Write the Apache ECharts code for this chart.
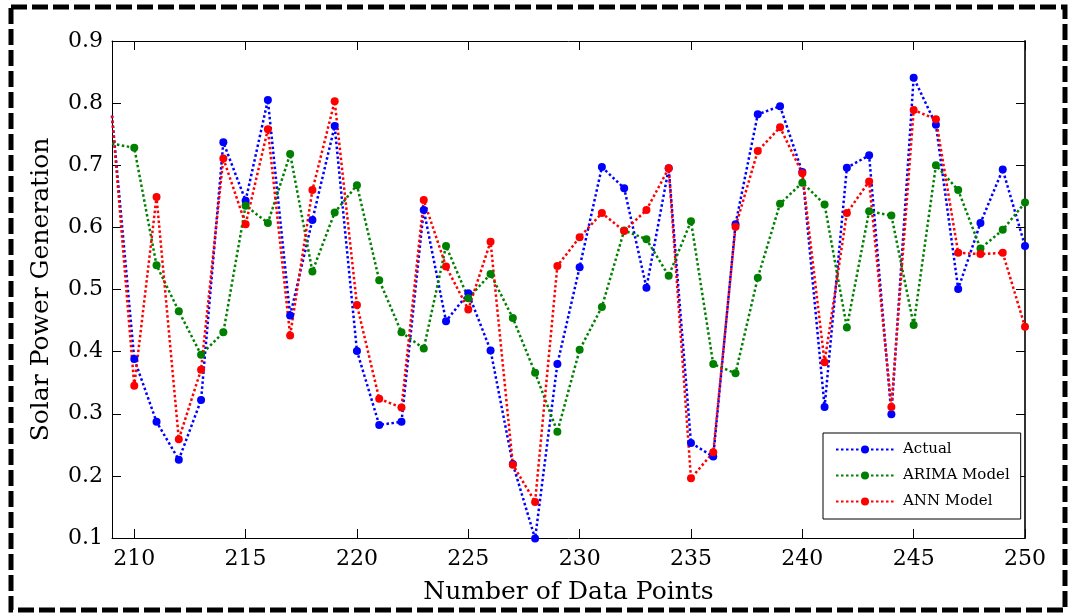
<!DOCTYPE html>
<html>
<head>
<meta charset="utf-8">
<title>Solar Power Generation</title>
<script src="https://cdn.jsdelivr.net/npm/echarts@6/dist/echarts.min.js"></script>
<style>
  html, body { margin: 0; padding: 0; background: #fff; }
  #chart { width: 1068px; height: 613px; }
</style>
</head>
<body>
<div id="chart"></div>
<script>
// data points 209..250
const xStart = 209
const xTicks = [210, 215, 220, 225, 230, 235, 240, 245, 250]
const yTicks = [0.1, 0.2, 0.3, 0.4, 0.5, 0.6, 0.7, 0.8, 0.9]

const actual = [0.78, 0.388, 0.287, 0.226, 0.322, 0.737, 0.643, 0.805, 0.458, 0.612,
  0.763, 0.401, 0.282, 0.287, 0.628, 0.449, 0.494, 0.402, 0.219, 0.099,
  0.380, 0.536, 0.697, 0.663, 0.503, 0.695, 0.253, 0.231, 0.605, 0.782,
  0.795, 0.689, 0.311, 0.696, 0.716, 0.299, 0.841, 0.765, 0.501, 0.607,
  0.693, 0.570]
const arima = [0.735, 0.728, 0.539, 0.465, 0.395, 0.431, 0.635, 0.607, 0.718, 0.529,
  0.624, 0.668, 0.515, 0.431, 0.405, 0.570, 0.486, 0.525, 0.454, 0.366,
  0.271, 0.403, 0.472, 0.595, 0.581, 0.522, 0.610, 0.380, 0.365, 0.519,
  0.638, 0.672, 0.637, 0.439, 0.626, 0.619, 0.443, 0.700, 0.660, 0.566,
  0.596, 0.640]
const ann = [0.78, 0.345, 0.649, 0.259, 0.371, 0.711, 0.605, 0.758, 0.426, 0.660,
  0.803, 0.475, 0.324, 0.310, 0.644, 0.537, 0.468, 0.577, 0.218, 0.158,
  0.538, 0.584, 0.623, 0.594, 0.628, 0.695, 0.196, 0.238, 0.601, 0.723,
  0.761, 0.687, 0.383, 0.623, 0.674, 0.311, 0.789, 0.774, 0.559, 0.557,
  0.559, 0.440]

const serif = 'DejaVu Serif'

function makeSeries(name, values, color) {
  let pts = []
  for (let i = 0; i < values.length; i++) {
    let item = { value: [xStart + i, values[i]] }
    // first point sits on the left edge, no marker there
    if (i === 0) {
      item.symbol = 'none'
    }
    pts.push(item)
  }
  return {
    name: name,
    type: 'line',
    data: pts,
    clip: false,
    symbol: 'circle',
    symbolSize: 8,
    itemStyle: { color: color },
    lineStyle: { color: color, width: 2.5, type: [2.5, 2.5] },
    animation: false
  }
}

function axisBase(pos, isX) {
  return {
    type: 'value',
    position: pos,
    min: isX ? 209 : 0.1,
    max: isX ? 250 : 0.9,
    axisLine: { show: true, onZero: false, lineStyle: { color: '#000', width: 1 } },
    axisTick: { show: true, inside: true, length: 9, customValues: isX ? xTicks : yTicks, lineStyle: { color: '#000' } },
    axisLabel: { show: false, customValues: isX ? xTicks : yTicks },
    splitLine: { show: false }
  }
}

const chart = echarts.init(document.getElementById('chart'))

let xBottom = axisBase('bottom', true)
xBottom.axisLabel = {
  show: true, customValues: xTicks, margin: 10,
  color: '#000', fontFamily: serif, fontSize: 22
}
xBottom.name = 'Number of Data Points'
xBottom.nameLocation = 'middle'
xBottom.nameGap = 42
xBottom.nameTextStyle = { color: '#000', fontFamily: serif, fontSize: 25 }

let yLeft = axisBase('left', false)
yLeft.axisLabel = {
  show: true, customValues: yTicks, margin: 9,
  color: '#000', fontFamily: serif, fontSize: 22,
  formatter: v => v.toFixed(1)
}
yLeft.name = 'Solar Power Generation'
yLeft.nameLocation = 'middle'
yLeft.nameGap = 58
yLeft.nameTextStyle = { color: '#000', fontFamily: serif, fontSize: 25 }

let xTop = axisBase('top', true)
let yRight = axisBase('right', false)
yRight.axisLine.lineStyle = { color: '#333', width: 2 }

chart.setOption({
  backgroundColor: '#fff',
  animation: false,
  grid: { left: 112, top: 41, right: 43, bottom: 75 },
  xAxis: [xBottom, xTop],
  yAxis: [yLeft, yRight],
  legend: {
    orient: 'vertical',
    left: 823,
    top: 433,
    itemWidth: 58,
    itemHeight: 10,
    itemGap: 11,
    padding: [9, 11, 10, 12],
    borderColor: '#000',
    borderWidth: 1,
    backgroundColor: '#fff',
    textStyle: { color: '#000', fontFamily: serif, fontSize: 15, padding: [0, 0, 0, 4] },
    data: ['Actual', 'ARIMA Model', 'ANN Model']
  },
  graphic: [{
    type: 'rect',
    shape: { x: 11, y: 7, width: 1054, height: 603 },
    style: { fill: null, stroke: '#000', lineWidth: 5, lineDash: [16, 5] },
    silent: true
  }],
  series: [
    makeSeries('Actual', actual, '#0000ff'),
    makeSeries('ARIMA Model', arima, '#008000'),
    makeSeries('ANN Model', ann, '#ff0000')
  ]
})
</script>
</body>
</html>
